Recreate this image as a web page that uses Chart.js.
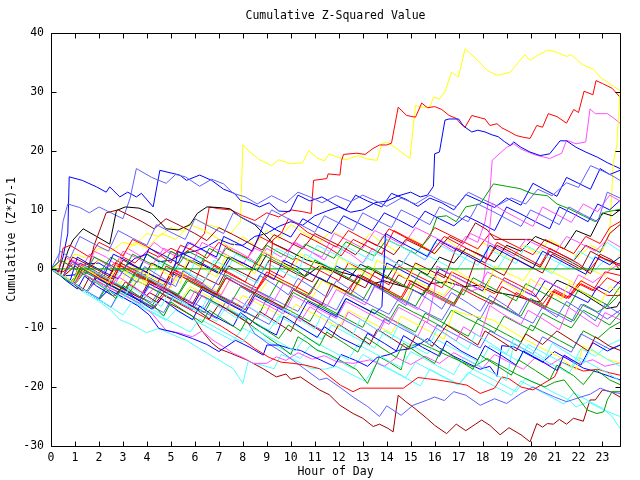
<!DOCTYPE html>
<html>
<head>
<meta charset="utf-8">
<script src="https://cdn.jsdelivr.net/npm/chart.js@4"></script>
<style>
    body { margin: 0; background: #fff; }
    canvas { display: block; }
</style>
</head>
<body>
<canvas id="zChart" width="640" height="480"></canvas>
<script>
// ==================== Data: [hour, cumulative value] ====================
const yTicks = [-30, -20, -10, 0, 10, 20, 30, 40];
const xTicks = [0, 1, 2, 3, 4, 5, 6, 7, 8, 9, 10, 11, 12, 13, 14, 15, 16, 17, 18, 19, 20, 21, 22, 23];
const hourMax = 23.73;

const yellowA = [[0,0],[0.5,1],[1,2.5],[1.5,1.8],[2,3.5],[2.5,3],[3,4.5],[3.5,4],[4,6],[4.5,5.5],[5,7],[5.5,6.5],[6,8.5],[6.5,7.5],[7,7],[7.5,6],[7.9,8],[8.0,21],[8.3,19.8],[8.7,18.5],[9.2,17.5],[9.5,18.5],[10,17.8],[10.5,18],[10.75,20],[11.1,18.8],[11.4,18.3],[11.6,19.5],[11.9,19],[12.3,18.5],[12.8,19.2],[13.2,18.6],[13.6,18.4],[13.8,21.2],[14.0,21.5],[14.2,21],[14.97,18.7],[15.2,27.7],[15.4,27.4],[15.8,27.4],[15.95,29.1],[16.2,28.8],[16.43,30],[16.7,33.3],[16.99,32.5],[17.27,37.3],[17.7,35.7],[18.2,33.6],[18.6,32.8],[19.14,33.3],[19.5,35],[19.77,36.3],[19.98,35.3],[20.3,36.2],[20.74,37.1],[21.1,36.7],[21.5,36],[21.7,36.3],[22.2,34.5],[22.6,33.9],[22.9,32.5],[23.3,31.4],[23.73,30.2]];
const redA = [[0,0],[0.5,-0.5],[1,1],[1.5,0],[2,1.5],[2.5,0.5],[3,2],[3.5,1],[4,3],[4.5,2],[5,3.5],[5.5,2.5],[6,4],[6.4,6],[6.6,10.5],[7,10.2],[7.5,10],[8,9],[8.5,8.2],[9,9.5],[9.5,8.8],[10,10],[10.5,9.7],[10.85,9.4],[10.95,15],[11.5,15.3],[11.56,16.1],[12.05,15.9],[12.12,18.4],[12.2,19.4],[12.75,19.6],[13.1,19.4],[13.43,20.4],[13.7,21],[14.0,21],[14.2,21.3],[14.48,27.4],[14.83,26],[15.2,25.7],[15.46,28.1],[15.7,27.3],[16.0,27.5],[16.3,27],[16.6,26],[16.9,25.5],[17.06,24.7],[17.27,24.0],[17.55,26],[17.9,25.6],[18.1,25.4],[18.3,24.3],[18.6,24.6],[18.8,23.9],[19.14,23.2],[19.4,22.6],[19.7,22.3],[19.98,22.1],[20.26,24.3],[20.5,24],[20.74,26.3],[21.1,25.8],[21.5,24.7],[21.8,27],[22.0,26.5],[22.23,30.1],[22.6,29.5],[22.73,31.9],[23.0,31.4],[23.4,30.6],[23.73,29.1]];
const magentaA = [[0,0],[0.4,-1],[0.6,2],[1,1],[1.5,-0.5],[1.8,3],[2.3,2],[2.8,0.5],[3.2,3.5],[3.8,2],[4.3,4.5],[4.8,3],[5.3,2],[5.8,4.5],[6.4,3],[7,1.5],[7.3,4],[8,2.5],[8.6,1],[9,3.5],[9.6,2],[10.2,4.5],[10.8,3],[11.4,1.5],[11.8,4],[12.5,2.5],[13,1],[13.4,3.5],[14,2],[14.6,0.5],[15,3],[15.6,1.5],[16.2,4.5],[16.8,3],[17.3,5.5],[17.8,4.5],[18.1,8],[18.3,12.8],[18.4,18.4],[19.0,20.6],[19.3,21.2],[19.6,20.3],[20.2,19.3],[20.8,18.7],[21.3,19.6],[21.5,21.8],[21.9,21.2],[22.3,21.5],[22.48,27.1],[22.7,26.3],[23.2,26.3],[23.45,25.6],[23.73,24.7]];
const blueA = [[0,0],[0.5,-1.2],[1,-1],[1.4,0.8],[2,1],[2.5,-0.3],[3,0],[3.5,1.8],[4,2.5],[4.5,1.2],[5,1.5],[5.5,2.6],[6,3],[6.5,3.8],[7,5],[7.5,4.2],[8,4],[8.5,5.5],[9,6],[9.5,7.2],[10,8],[10.5,7.4],[11,9],[11.5,9.8],[12,10.5],[12.5,9.6],[13,10],[13.5,11.2],[14,11.5],[14.5,12.4],[15,13],[15.4,12.2],[15.7,12.5],[15.95,14],[16.0,19.5],[16.2,19.8],[16.43,25.2],[16.6,25.4],[17.0,25.4],[17.2,24.2],[17.55,23.2],[17.8,23.5],[18.1,23.2],[18.4,22.7],[18.65,22.4],[18.9,21.6],[19.15,20.9],[19.3,21.5],[19.6,20.6],[19.98,19.8],[20.4,19.2],[20.8,19.5],[21.23,21.7],[21.5,21.7],[21.9,20.6],[22.3,19.8],[22.8,18.9],[23.2,18],[23.73,17]];
const yellowB = [[0,0],[0.5,-1.5],[1,0.5],[1.5,-0.5],[2,1.5],[2.6,0],[3,2.5],[3.5,4.5],[4,3.5],[4.6,6],[5.2,5],[5.8,7.5],[6.4,6.5],[7,5],[7.5,3.5],[8,5.5],[8.5,4],[9,6.5],[9.5,5],[10,7.5],[10.6,6],[11.2,4.5],[11.7,6.5],[12.3,5],[12.8,3.5],[13.3,6],[13.8,4.5],[14.4,3],[14.9,5.5],[15.5,4],[16,2.5],[16.5,5],[17,3.5],[17.6,2],[18,4.5],[18.6,3],[19.2,1.5],[19.7,4],[20.3,2.5],[20.8,5],[21.4,3.5],[22,2],[22.5,4],[23,3],[23.3,6],[23.45,18],[23.6,21],[23.73,29.7]];
const blueB = [[0,0],[0.3,-0.5],[0.5,2],[0.7,6],[0.76,15.6],[1.3,15],[1.9,13.9],[2.3,13],[2.45,13.9],[2.87,12.2],[3.2,13],[3.56,12.2],[3.77,12.8],[4.26,10.5],[4.54,16.7],[5.37,15.9],[5.65,15],[6.2,15.9],[6.7,15],[7.2,13.5],[7.65,12.8],[7.9,11.6],[8.3,11.2],[8.7,10.5],[9.1,11.2],[9.5,9.8],[9.96,9.7],[10.3,12.5],[10.8,11.5],[11.3,12.2],[11.8,11],[12.3,10],[12.7,12.5],[13.2,11.5],[13.8,10.5],[14.2,12.8],[14.8,11.8],[15.3,10.6],[15.8,12],[16.3,11.2],[16.8,10],[17.3,12.6],[17.9,11.5],[18.5,10.4],[19,12],[19.6,10.8],[20.1,14.5],[20.6,13.4],[21.1,12.3],[21.5,15.5],[22,14.5],[22.5,13.5],[22.9,17],[23.3,16],[23.73,16.7]];
const lightBlueA = [[0,0],[0.3,1],[0.5,8],[0.7,11],[1.2,10.4],[1.6,9.5],[2,10.5],[2.5,9.5],[3,8.5],[3.3,12],[3.56,17],[4.2,15.5],[4.8,14.5],[5.2,16],[5.6,15.6],[6.2,14],[6.7,15.2],[7.2,14.4],[7.6,12.8],[8.1,12.2],[8.6,11],[9.2,12.4],[9.8,11.2],[10.3,13],[10.8,12.2],[11.3,11.2],[11.9,12.4],[12.5,11.4],[13,12.5],[13.5,11.6],[14,10.6],[14.6,12],[15.2,11],[15.8,12.5],[16.3,11.5],[16.9,10.5],[17.4,13],[18,11.8],[18.6,10.7],[19.2,12],[19.8,11],[20.3,13.5],[20.9,12.4],[21.5,14.6],[22,13.8],[22.5,17.5],[23,16.6],[23.4,15.8],[23.73,15]];
const blackA = [[0,0],[0.4,-1],[0.7,3],[0.92,4.9],[1.34,6.8],[1.9,5.5],[2.45,4.2],[2.73,9.9],[3.1,10.5],[3.67,10.3],[4.2,9.4],[4.8,6.8],[5.3,6.6],[5.8,7.5],[6.1,9.4],[6.5,10.5],[7,10.4],[7.46,10.2],[7.9,8.8],[8.5,7.5],[9.27,4.3],[9.8,3.3],[10.66,1.5],[11.3,0.8],[12.05,-0.5],[12.7,-1.2],[13.44,-2.5],[13.9,-2],[14.27,-2.5],[14.9,-3.2],[15.53,-4.4],[15.8,-2.5],[16.5,-2.2],[17.2,-3],[17.9,-2.75],[18.6,-4],[19.3,-4.5],[19.97,-5.3],[20.4,-5.6],[21.1,-1.9],[21.6,-2.8],[22.2,-4.2],[22.7,-5.5],[23.17,-6.7],[23.6,-6.4],[23.73,-5.5]];
const blackB = [[0,0],[0.5,-1.2],[1,-2.4],[1.3,0],[1.8,-1],[2.3,-2.2],[2.7,0.5],[3.2,-0.5],[3.8,-1.8],[4.2,1],[4.8,-0.2],[5.4,-1.5],[5.8,1.5],[6.4,0.5],[7,-0.8],[7.4,2],[8,1],[8.6,-0.3],[9,2.5],[9.6,1.2],[10.2,0],[10.6,-1.3],[11.2,0.5],[11.8,-0.5],[12.4,-1.8],[12.9,0.8],[13.5,-0.4],[14,-1.6],[14.5,1.5],[15.1,0.3],[15.7,-1],[16.2,2],[16.8,1],[17.3,3.5],[17.9,2.4],[18.5,1.2],[19,4],[19.6,3],[20.2,5.5],[20.8,4.5],[21.4,3.4],[21.9,6.5],[22.5,5.5],[23,9.5],[23.4,9],[23.73,10]];
const redB = [[0,0],[0.3,-1],[0.5,3.5],[0.8,4],[1.2,3],[1.6,2],[2,4.5],[2.5,3.5],[3,2.2],[3.4,5],[4,3.8],[4.5,2.5],[5,1],[5.4,4],[6,3],[6.5,1.8],[7,4.5],[7.6,3],[8.2,1.8],[8.7,5.5],[9.3,4.2],[9.9,3],[10.4,6],[11,4.8],[11.6,3.5],[12.1,2.2],[12.6,5],[13.2,3.8],[13.8,2.5],[14.3,6.5],[14.9,5.2],[15.5,4],[16,7],[16.6,5.8],[17.2,4.6],[17.8,3.4],[18.3,6],[18.9,4.8],[19.5,3.6],[20.1,2.4],[20.6,5],[21.2,3.8],[21.8,2.6],[22.3,5.5],[22.9,4.3],[23.3,7],[23.73,8]];
const darkRedA = [[0,0],[0.5,-1.3],[1,0.5],[1.5,-0.8],[1.8,4],[2.3,9.5],[2.8,10],[3.3,9],[3.8,8],[4.3,6.8],[4.8,8.5],[5.4,7.3],[6,6],[6.5,4.8],[7,7],[7.6,5.8],[8.2,4.5],[8.8,3.2],[9.3,5.8],[9.9,4.6],[10.5,3.4],[11,6],[11.6,4.8],[12.2,3.6],[12.7,2.4],[13.2,4.8],[13.8,3.6],[14.3,2.4],[14.8,5],[15.4,3.8],[16,2.6],[16.6,5.5],[17.2,4.3],[17.7,7.8],[18.2,6.6],[18.5,5],[20,5],[20.6,3.8],[21.2,2.6],[21.8,1.4],[22.3,4],[22.9,2.8],[23.3,6],[23.73,7.5]];
const greenA = [[0,0],[0.5,-1.3],[1,-2.5],[1.4,0.5],[2,-0.8],[2.5,2],[3,0.8],[3.6,-0.5],[4,2.5],[4.6,1.2],[5.2,0],[5.7,3],[6.3,1.8],[6.8,0.5],[7.3,3.5],[7.9,2.3],[8.5,1],[9,4],[9.5,2.8],[10.1,1.6],[10.6,4.2],[11.2,3],[11.8,1.8],[12.3,4.6],[12.9,3.4],[13.5,2.2],[14,5],[14.6,3.8],[15.2,2.6],[15.8,5.4],[16.1,8.8],[16.5,9],[16.9,8],[17.3,10.5],[17.9,11],[18.45,14.4],[19,14],[19.56,13.6],[20.1,12.7],[20.7,12.4],[21.1,11],[21.6,10.2],[22.2,9],[22.7,8],[23.1,9.6],[23.73,10.1]];
const blueC = [[0,0],[0.5,-1.3],[0.9,-2.4],[1.2,1],[1.7,0],[2.2,-1.3],[2.6,2.5],[3.2,1.3],[3.7,0],[4.1,3.5],[4.7,2.3],[5.3,1],[5.7,4.5],[6.3,3.3],[6.9,2],[7.2,5.5],[7.8,4.3],[8.4,3],[8.9,7.8],[9.4,6.6],[10,5.4],[10.5,8.5],[11.1,7.2],[11.7,6],[12.2,9],[12.8,7.8],[13.4,6.5],[13.9,9.5],[14.5,8.3],[15.1,7],[15.6,9.8],[16.2,8.5],[16.8,7.3],[17.3,9],[17.9,7.8],[18.5,6.5],[19,10.5],[19.6,9.3],[20.2,8],[20.8,6.8],[21.2,10.5],[21.8,9.3],[22.4,8],[22.8,11],[23.3,10],[23.73,11.6]];
const magentaB = [[0,0],[0.4,1.5],[0.8,0.5],[1.2,-0.6],[1.6,2.5],[2.1,1.3],[2.6,0],[3,3],[3.6,1.8],[4.2,0.5],[4.7,3.5],[5.3,2.3],[5.9,1],[6.3,4.5],[6.9,3.3],[7.5,2],[8,0.8],[8.5,3.5],[9.1,2.3],[9.7,1],[10.1,4.5],[10.7,3.2],[11.3,2],[11.8,6],[12.4,4.8],[13,3.5],[13.5,6.5],[14.1,5.3],[14.7,4],[15.2,7],[15.8,5.8],[16.4,4.5],[17,3.3],[17.5,6],[18.1,4.8],[18.7,3.5],[19.3,2.2],[19.8,5],[20.4,3.8],[21,2.5],[21.5,5.5],[22.1,4.3],[22.7,3],[23.2,5],[23.73,3.7]];
const cyanA = [[0,0],[0.5,-1.3],[1,-2.6],[1.4,-0.5],[2,-1.8],[2.5,-3],[2.9,0],[3.5,-1.2],[4.1,-2.5],[4.5,1],[5.1,-0.2],[5.7,-1.5],[6.1,2],[6.7,0.8],[7.3,-0.5],[7.7,2.5],[8.3,1.3],[8.9,0],[9.4,3.5],[10,2.3],[10.6,1],[11.1,4],[11.7,2.8],[12.3,1.5],[12.9,0.3],[13.4,3],[14,1.8],[14.6,0.5],[15.1,3.5],[15.7,2.3],[16.3,1],[16.9,-0.3],[17.4,2.5],[18,1.3],[18.6,0],[19.1,3],[19.7,1.8],[20.3,0.5],[20.9,-0.8],[21.4,2],[22,0.8],[22.6,-0.5],[23.1,1.5],[23.73,0.5]];
const yellowC = [[0,0],[0.5,-1.2],[1,-2.5],[1.4,1],[1.9,0],[2.4,-1.3],[2.9,-2.5],[3.3,0.5],[3.9,-0.7],[4.5,-2],[5,-3.2],[5.4,-0.5],[6,-1.8],[6.6,-3],[7.1,-4.2],[7.5,-1.5],[8.1,-2.8],[8.7,-4],[9.2,-1],[9.8,-2.3],[10.4,-3.5],[10.9,-4.8],[11.3,-2],[11.9,-3.3],[12.5,-4.5],[13,-1.5],[13.6,-2.8],[14.2,-4],[14.8,-5.3],[15.2,-2],[15.8,-3.3],[16.4,-4.5],[16.9,-1.5],[17.5,-2.8],[18.1,-4],[18.5,0.5],[19.1,-0.8],[19.7,-2],[20.2,1],[20.8,-0.3],[21.4,-1.5],[22,-2.8],[22.5,0],[23.1,-1.3],[23.73,2.5]];
const redC = [[0,0],[0.5,-1.3],[0.8,1.5],[1.3,0.3],[1.8,-1],[2.3,-2.2],[2.7,1],[3.3,-0.2],[3.9,-1.5],[4.4,-2.7],[4.8,0.5],[5.4,-0.8],[6,-2],[6.4,1.5],[7,0.3],[7.6,-1],[8.1,-2.2],[8.5,1],[9.1,-0.2],[9.7,-1.5],[10.2,1.8],[10.8,0.6],[11.4,-0.7],[12,-2],[12.4,1],[13,-0.2],[13.6,-1.5],[14.1,-2.7],[14.5,0.5],[15.1,-0.8],[15.7,-2],[16.3,-3.2],[16.7,-0.5],[17.3,-1.7],[17.9,-3],[18.5,-4.2],[18.9,-1.5],[19.5,-2.7],[20.1,-4],[20.5,-6],[20.9,-3.8],[21.5,-5],[22,-2.5],[22.6,-3.7],[23.1,-0.5],[23.73,-1.1]];
const redD = [[0,0],[0.5,-1.3],[1,-2.6],[1.4,0],[2,-1.2],[2.6,-2.5],[3.1,-3.7],[3.5,-1],[4.1,-2.2],[4.7,-3.5],[5.1,-0.5],[5.7,-1.8],[6.3,-3],[6.9,-4.3],[7.3,-1.5],[7.9,-2.8],[8.5,-4],[9,-1],[9.6,-2.3],[10.2,-3.5],[10.7,-0.5],[11.3,-1.8],[11.9,-3],[12.5,-4.3],[12.9,-1.5],[13.5,-2.8],[14.1,-4],[14.6,-5.3],[15,-2.5],[15.6,-3.8],[16.2,-5],[16.8,-6.3],[17.2,-3.5],[17.8,-4.8],[18.4,-6],[18.8,-3],[19.4,-4.3],[20,-5.5],[20.6,-6.8],[21,-3.8],[21.6,-5],[22.1,-2.5],[22.7,-3.7],[23.2,-1.5],[23.73,-2.5]];
const redE = [[0,0],[0.4,-1],[0.9,-2.3],[1.3,0.8],[1.9,-0.5],[2.5,-1.8],[2.9,1],[3.5,-0.2],[4.1,-1.5],[4.7,-2.8],[5.1,0],[5.7,-1.3],[6.3,-2.5],[6.8,0.5],[7.4,-0.8],[8,-2],[8.6,-3.3],[9,-0.5],[9.6,-1.8],[10.2,-3],[10.8,-4.3],[11.2,-1.5],[11.8,-2.8],[12.4,-4],[12.8,-1],[13.4,-2.3],[14,-3.5],[14.6,-4.8],[15,-2],[15.6,-3.3],[16.2,-4.5],[16.8,-5.8],[17.2,-3],[17.8,-4.3],[18.4,-5.5],[19,-6.8],[19.4,-4],[20,-5.3],[20.6,-6.5],[21,-3.5],[21.6,-4.8],[22.1,-2],[22.7,-3.3],[23.2,-4.5],[23.73,-4.5]];
const greenB = [[0,0],[0.5,-1.3],[1,-2.6],[1.5,-3.8],[1.9,-1],[2.5,-2.3],[3.1,-3.5],[3.5,-0.5],[4.1,-1.8],[4.7,-3],[5.3,-4.3],[5.7,-1.5],[6.3,-2.8],[6.9,-4],[7.3,-1],[7.9,-2.3],[8.5,-3.5],[9.1,-4.8],[9.5,-2],[10.1,-3.3],[10.7,-4.5],[11.2,-1.5],[11.8,-2.8],[12.4,-4],[13,-5.3],[13.4,-2.5],[14,-3.8],[14.6,-5],[15.2,-6.3],[15.6,-3.5],[16.2,-4.8],[16.8,-6],[17.2,-3],[17.8,-4.3],[18.4,-5.5],[19,-6.8],[19.6,-8],[20,-5],[20.6,-6.3],[21.2,-7.5],[21.8,-8.8],[22.2,-6],[22.8,-7.3],[23.3,-6],[23.73,-4.2]];
const darkRedB = [[0,0],[0.5,-1.3],[0.9,2],[1.5,0.8],[2.1,-0.5],[2.6,-1.7],[3,1.5],[3.6,0.3],[4.2,-1],[4.8,-2.2],[5.2,1],[5.8,-0.2],[6.4,-1.5],[7,-2.7],[7.4,0.5],[8,-0.7],[8.6,-2],[9.1,1.5],[9.7,0.3],[10.3,-1],[10.9,-2.2],[11.3,0.5],[11.9,-0.7],[12.5,-2],[13.1,-3.2],[13.5,-0.5],[14.1,-1.7],[14.7,-3],[15.2,1],[15.8,-0.2],[16.4,-1.5],[16.9,3.5],[17.5,2.3],[18.1,1],[18.6,4],[19.2,2.8],[19.8,1.5],[20.4,0.3],[20.8,3],[21.4,1.8],[22,0.5],[22.5,-0.8],[22.9,2.5],[23.4,1.5],[23.73,-0.2]];
const blueD = [[0,0],[0.4,-1],[0.8,-2],[1.1,2],[1.6,0.8],[2.2,-0.5],[2.8,-1.7],[3.2,1],[3.8,-0.2],[4.4,-1.5],[5,-2.7],[5.3,3],[5.9,1.8],[6.5,0.5],[7.1,-0.8],[7.5,2],[8.1,0.8],[8.7,-0.5],[9.3,-1.8],[9.7,1.5],[10.3,0.3],[10.9,-1],[11.5,-2.2],[11.9,0.5],[12.5,-0.7],[13.1,-2],[13.7,-3.2],[14,1],[14.6,-0.2],[15.2,-1.5],[15.8,-2.7],[16.2,0],[16.8,-1.2],[17.4,-2.5],[18,-3.7],[18.4,-1],[19,-2.2],[19.6,-3.5],[20.2,-4.7],[20.6,-2],[21.2,-3.2],[21.8,-4.5],[22.4,-5.7],[22.8,-3],[23.3,-4],[23.73,-2]];
const lightBlueB = [[0,0],[0.5,-1.3],[1,-2.5],[1.5,-3.8],[2,-5],[2.4,-2],[3,-3.2],[3.6,-4.5],[4.2,-5.7],[4.6,-3],[5.2,-4.2],[5.8,-5.5],[6.4,-6.7],[6.8,-4],[7.4,-5.2],[8,-6.5],[8.5,-3.5],[9.1,-4.7],[9.7,-6],[10.3,-7.2],[10.7,-4.5],[11.3,-5.7],[11.9,-7],[12.3,-4],[12.9,-5.2],[13.5,-6.5],[14.1,-7.7],[14.5,-5],[15.1,-6.2],[15.7,-7.5],[16.3,-8.7],[16.7,-6],[17.3,-7.2],[17.9,-8.5],[18.3,-5.5],[18.9,-6.7],[19.5,-8],[20.1,-9.2],[20.5,-6.5],[21.1,-7.7],[21.7,-9],[22.1,-6],[22.7,-7.2],[23.2,-8.5],[23.73,-7]];
const darkRedC = [[0,0],[0.5,-1.2],[1,-2.5],[1.5,-3.8],[1.9,-2],[2.5,-3.3],[3.1,-4.5],[3.7,-5.8],[4.1,-4],[4.7,-5.3],[5.3,-6.6],[5.9,-8],[6.3,-10.5],[6.7,-12.5],[7,-13.5],[7.5,-14.3],[8.15,-15.4],[8.8,-16.8],[9.4,-18.3],[9.8,-17.8],[10,-18.7],[10.4,-18.3],[10.8,-19.4],[11.2,-20.5],[11.6,-21.3],[12.05,-23.1],[12.6,-24.5],[13,-25.3],[13.44,-26.7],[13.7,-26.3],[14.05,-27],[14.27,-27.6],[14.48,-21.4],[14.8,-22.5],[15.1,-23.4],[15.67,-25.3],[16,-26.5],[16.5,-27.9],[16.9,-26.3],[17.3,-27.4],[17.96,-25.6],[18.3,-26.5],[18.73,-28.1],[19.1,-26.9],[19.6,-28.1],[19.98,-29.3],[20.26,-26.2],[20.5,-26.8],[20.7,-26.2],[20.95,-26.3],[21.2,-25.5],[21.5,-26.3],[21.79,-25.3],[22.2,-25.8],[22.48,-22.2],[22.7,-22.2],[23,-20.5],[23.35,-20.8],[23.73,-21.7]];
const cyanB = [[0,0],[0.5,-1.5],[1,-3],[1.5,-4.3],[2,-5.5],[2.5,-7],[2.87,-8.6],[3.4,-9.5],[3.98,-10.8],[4.5,-10.1],[5.1,-11.2],[5.65,-12.1],[6.2,-13.5],[6.9,-15.2],[7.6,-16.9],[8,-19.4],[8.22,-15.7],[8.8,-16.3],[9.3,-16.9],[9.6,-14.5],[10.2,-15.5],[10.8,-16.8],[11.4,-17],[11.9,-16.5],[12.5,-17.8],[13.1,-19],[13.6,-16],[14.2,-17.2],[14.8,-18.5],[15.4,-19.8],[15.8,-17],[16.4,-18.3],[17,-19.5],[17.6,-17],[18.2,-18.2],[18.8,-19.5],[19.4,-20.8],[19.8,-18.5],[20.4,-19.7],[21,-21],[21.6,-22.2],[21.9,-23.4],[22.4,-22.5],[23,-23.8],[23.73,-25]];
const cyanC = [[0,0],[0.5,-1.3],[1,-2.6],[1.5,-3.9],[2,-5.2],[2.4,-3.5],[3,-4.8],[3.6,-6.1],[4.2,-7.4],[4.8,-8.7],[5.2,-7],[5.8,-8.3],[6.4,-9.6],[7,-10.9],[7.6,-12.2],[8,-10],[8.6,-11.3],[9.2,-12.6],[9.8,-13.9],[10.4,-15.2],[10.8,-13],[11.4,-14.3],[12,-15.6],[12.6,-16.9],[13,-14.5],[13.6,-15.8],[14.2,-17.1],[14.8,-18.4],[15.2,-15.8],[15.8,-17.1],[16.4,-18.4],[17,-19.7],[17.4,-17.5],[18,-18.8],[18.6,-20.1],[19.2,-21.4],[19.6,-19],[20.2,-20.3],[20.8,-21.6],[21.4,-22.9],[21.8,-21],[22.4,-22.3],[23,-23.6],[23.4,-25],[23.73,-27]];
const lightBlueC = [[0,0],[0.5,-1.3],[1,-2.6],[1.5,-3.9],[1.9,-1.5],[2.5,-2.8],[3.1,-4.1],[3.7,-5.4],[4.1,-3],[4.7,-4.3],[5.3,-5.6],[5.9,-6.9],[6.3,-4.5],[6.9,-5.8],[7.5,-7.1],[8.1,-8.4],[8.5,-11],[9,-12.5],[9.6,-14],[10.1,-15.5],[10.6,-17],[11.2,-18.8],[11.5,-18.5],[12.1,-20.2],[12.6,-21.7],[13.2,-23.3],[13.7,-25],[14,-23.2],[14.6,-24.8],[15.1,-23.1],[15.7,-22.2],[16,-21.7],[16.4,-22.3],[16.8,-20.8],[17.3,-21.4],[17.9,-23.1],[18.5,-22],[19,-22.8],[19.6,-21.1],[20.1,-20],[20.5,-20.8],[21,-21.7],[21.5,-22.5],[22.1,-21.7],[22.5,-21.2],[22.9,-20.2],[23.3,-20.8],[23.73,-21.1]];
const greenC = [[0,0],[0.5,-1.3],[1,-2.6],[1.4,-0.5],[2,-1.8],[2.6,-3.1],[3.2,-4.4],[3.6,-2],[4.2,-3.3],[4.8,-4.6],[5.4,-5.9],[5.8,-3.5],[6.4,-4.8],[7,-6.1],[7.6,-7.4],[8,-8.5],[8.5,-10],[9,-11.5],[9.6,-13.2],[10,-14.5],[10.3,-11.5],[10.7,-12.5],[11.1,-13.8],[11.6,-14.5],[12.2,-15.8],[12.76,-17.1],[13.2,-19.4],[13.7,-14.9],[14.1,-15.8],[14.6,-17.1],[14.85,-13.2],[15.4,-12.6],[15.9,-13.5],[16.5,-14.6],[17,-15.5],[17.6,-16.6],[18.2,-15.2],[18.8,-16.5],[19.4,-17.8],[20,-19],[20.6,-20],[21,-19.2],[21.4,-18.8],[21.9,-21.4],[22.36,-23.9],[22.77,-24.5],[23.05,-24.2],[23.2,-22.2],[23.4,-20.8],[23.73,-20.8]];
const magentaC = [[0,0],[0.5,-1.3],[1,-2.6],[1.5,-3.9],[1.9,-2],[2.5,-3.3],[3.1,-4.6],[3.7,-5.9],[4.2,-7.5],[4.8,-10.4],[5.3,-10.8],[5.9,-11.5],[6.3,-10.5],[6.76,-12.1],[7.2,-13.2],[7.6,-14.3],[8,-15],[8.43,-16],[9,-16],[9.4,-14.9],[9.8,-15.5],[10.3,-14.2],[10.9,-15.3],[11.4,-14.7],[11.9,-15.7],[12.6,-16],[13.3,-15.4],[13.9,-16.5],[14.4,-15],[15,-16.2],[15.6,-14.8],[16.2,-16],[16.8,-14.2],[17.4,-15.5],[18,-16.8],[18.5,-14.5],[19.1,-15.8],[19.7,-17],[20.2,-15],[20.8,-16.3],[21.4,-14.8],[22,-16],[22.6,-15.4],[23.1,-16.5],[23.73,-15.9]];
const blueE = [[0,0],[0.5,-1.3],[1,-2.6],[1.5,-3.9],[2,-5.2],[2.4,-3.5],[3,-4.8],[3.6,-6.2],[4.1,-7.8],[4.5,-10.1],[5.2,-10.8],[5.9,-11.8],[6.5,-12.8],[7,-14],[7.7,-12.1],[8.3,-13.3],[8.85,-14.6],[9,-12.9],[9.5,-12.9],[9.96,-13.5],[10.4,-13.8],[10.8,-14.6],[11.23,-15.4],[11.8,-16.5],[12.1,-14.5],[12.7,-15.5],[13.2,-16.5],[13.6,-15],[14.1,-14.5],[14.5,-13.8],[15,-13.5],[15.4,-12.7],[15.7,-11.8],[16.2,-13.4],[16.8,-14.8],[17.4,-16],[17.9,-17],[18.3,-16.5],[18.6,-18.2],[18.8,-13],[19.3,-13.2],[19.9,-14.5],[20.5,-15.8],[21,-14],[21.6,-15.4],[22.2,-16.8],[22.8,-17.5],[23.3,-18.2],[23.73,-18.8]];
const redF = [[0,0],[0.5,-1.3],[1,-2.6],[1.5,-3.9],[1.9,-1.5],[2.5,-2.8],[3.1,-4.1],[3.7,-5.4],[4.3,-6.7],[4.7,-4.5],[5.3,-5.8],[5.9,-7.1],[6.5,-8.4],[7.1,-9.7],[7.6,-11],[8,-12],[8.5,-13.5],[9.1,-15],[9.6,-15.8],[10.1,-16],[10.6,-16.3],[11.2,-16.9],[11.6,-18.2],[12.07,-19.7],[12.6,-20.8],[12.9,-20.2],[14.7,-20.2],[15.3,-18.4],[15.7,-18.6],[16.1,-18.8],[16.7,-19.2],[17.35,-19.7],[17.9,-21.1],[18.5,-20.2],[18.8,-18.3],[19.1,-18.6],[19.6,-20],[20.1,-20.5],[20.5,-19.5],[21,-18.3],[21.3,-15.8],[21.7,-16.5],[22.2,-17.3],[22.8,-17],[23.3,-17.6],[23.73,-18]];
const cyanD = [[0,0],[0.5,-1.3],[1,-2.6],[1.5,-3.9],[2,-5.2],[2.5,-6.5],[2.9,-4],[3.5,-5.3],[4.1,-6.6],[4.7,-7.9],[5.1,-5],[5.7,-6.3],[6.3,-7.6],[6.9,-8.9],[7.3,-6.5],[7.9,-7.8],[8.5,-9.1],[9.1,-10.4],[9.5,-8],[10.1,-9.3],[10.7,-10.6],[11.3,-11.9],[11.7,-9.5],[12.3,-10.8],[12.9,-12.1],[13.5,-13.4],[13.9,-10.5],[14.5,-11.8],[15.1,-13.1],[15.7,-14.4],[16.1,-12],[16.7,-13.3],[17.3,-14.6],[17.9,-15.9],[18.3,-13],[18.9,-14.3],[19.5,-15.6],[19.9,-12.8],[20.5,-14.1],[21.1,-15.4],[21.7,-16.7],[22.1,-13.5],[22.7,-14.8],[23.2,-13],[23.73,-12]];
const greenD = [[0,0],[0.5,-1.3],[0.9,-2.5],[1.3,0.5],[1.9,-0.8],[2.5,-2],[3.1,-3.3],[3.5,-0.8],[4.1,-2],[4.7,-3.3],[5.3,-4.5],[5.7,-2],[6.3,-3.3],[6.9,-4.5],[7.5,-5.8],[7.9,-3],[8.5,-4.3],[9.1,-5.5],[9.7,-6.8],[10.1,-4],[10.7,-5.3],[11.3,-6.5],[11.9,-7.8],[12.3,-5],[12.9,-6.3],[13.5,-7.5],[14.1,-8.8],[14.5,-6],[15.1,-7.3],[15.7,-8.5],[16.3,-9.8],[16.7,-7],[17.3,-8.3],[17.9,-9.5],[18.5,-10.8],[18.9,-8],[19.5,-9.3],[20.1,-10.5],[20.5,-7.5],[21.1,-8.8],[21.7,-10],[22.2,-7],[22.8,-8.3],[23.3,-9.5],[23.73,-7.5]];
const greenE = [[0,0],[0.5,-1.3],[1,-2.6],[1.5,-3.9],[2,-5.2],[2.4,-2.5],[3,-3.8],[3.6,-5.1],[4.2,-6.4],[4.6,-3.5],[5.2,-4.8],[5.8,-6.1],[6.4,-7.4],[6.8,-4.5],[7.4,-5.8],[8,-7.1],[8.6,-8.4],[9,-5],[9.6,-6.3],[10.2,-7.6],[10.8,-8.9],[11.2,-6],[11.8,-7.3],[12.4,-8.6],[13,-9.9],[13.4,-6.8],[14,-8.1],[14.6,-9.4],[15.2,-10.7],[15.6,-7.5],[16.2,-8.8],[16.8,-10.1],[17.4,-11.4],[17.8,-8.5],[18.4,-9.8],[19,-11.1],[19.6,-12.4],[20,-9.5],[20.6,-10.8],[21.2,-12.1],[21.8,-13.4],[22.2,-10.5],[22.8,-11.8],[23.3,-10],[23.73,-9]];
const yellowD = [[0,0],[0.5,-1.3],[1,-2.6],[1.4,0],[2,-1.3],[2.6,-2.6],[3.2,-3.9],[3.6,-1.5],[4.2,-2.8],[4.8,-4.1],[5.4,-5.4],[5.8,-3],[6.4,-4.3],[7,-5.6],[7.6,-6.9],[8,-4.5],[8.6,-5.8],[9.2,-7.1],[9.8,-8.4],[10.2,-6],[10.8,-7.3],[11.4,-8.6],[12,-9.9],[12.4,-7],[13,-8.3],[13.6,-9.6],[14.2,-10.9],[14.6,-8],[15.2,-9.3],[15.8,-10.6],[16.4,-11.9],[16.8,-7],[17.4,-7.8],[18,-8.2],[18.46,-8.7],[19.1,-10.3],[19.85,-12.1],[20.5,-13.5],[21.2,-14.9],[21.9,-17.1],[22.2,-13],[22.7,-14.2],[23.2,-15.3],[23.73,-15.9]];
const magentaD = [[0,0],[0.5,-1.3],[1,-2.6],[1.5,-3.9],[1.9,-1],[2.5,-2.3],[3.1,-3.6],[3.7,-4.9],[4.1,-2.5],[4.7,-3.8],[5.3,-5.1],[5.9,-6.4],[6.3,-3.5],[6.9,-4.8],[7.5,-6.1],[8.1,-7.4],[8.5,-5],[9.1,-6.3],[9.7,-7.6],[10.1,-4.5],[10.7,-5.8],[11.3,-7.1],[11.9,-8.4],[12.3,-5.5],[12.9,-6.8],[13.5,-8.1],[14.1,-9.4],[14.5,-6.5],[15.1,-7.8],[15.7,-9.1],[16,-3.5],[16.1,0.5],[16.6,-0.8],[17.2,-2.1],[17.8,-3.4],[18.2,-0.5],[18.8,-1.8],[19.4,-3.1],[20,-4.4],[20.4,-1.5],[21,-2.8],[21.6,-4.1],[22,-1],[22.6,-2.3],[23.2,-0.5],[23.73,1]];
const magentaE = [[0,0],[0.5,-1.3],[0.9,1.5],[1.5,0.2],[2.1,-1.1],[2.7,-2.4],[3.1,0.5],[3.7,-0.8],[4.3,-2.1],[4.9,-3.4],[5.3,-0.5],[5.9,-1.8],[6.5,-3.1],[7.1,-4.4],[7.5,-1.5],[8.1,-2.8],[8.7,-4.1],[9.3,-5.4],[9.7,-2.5],[10.3,-3.8],[10.9,-5.1],[11.5,-6.4],[11.9,-3.5],[12.5,-4.8],[13.1,-6.1],[13.5,-3],[14.1,-4.3],[14.7,-5.6],[15.3,-6.9],[15.7,-4],[16.3,-5.3],[16.9,-2.5],[17.5,-3.8],[18,-3.1],[18.25,5],[18.4,11.1],[18.9,9.8],[19.5,8.5],[20.1,7.2],[20.5,10.5],[21.1,9.2],[21.7,7.9],[22.2,11],[22.8,9.7],[23.3,12.5],[23.73,11.5]];
const cyanE = [[0,0],[0.5,-1.3],[1,-2.6],[1.4,0.5],[2,-0.8],[2.6,-2.1],[3.2,-3.4],[3.6,-0.5],[4.2,-1.8],[4.8,-3.1],[5.2,0.5],[5.8,-0.8],[6.4,-2.1],[6.8,1.5],[7.4,0.2],[8,-1.1],[8.6,-2.4],[9,1],[9.6,-0.3],[10.2,-1.6],[10.6,2.5],[11.2,1.2],[11.8,-0.1],[12.2,4],[12.8,2.7],[13.4,1.4],[13.8,5.5],[14.4,4.2],[15,2.9],[15.6,1.6],[16,4.5],[16.6,3.2],[17.2,1.9],[17.8,0.6],[18.2,3.5],[18.8,2.2],[19.4,0.9],[19.8,4],[20.4,2.7],[21,1.4],[21.6,0.1],[22,3],[22.6,1.7],[23.2,4.5],[23.73,3]];
const redG = [[0,0],[0.5,-1.3],[1,-2.6],[1.3,0],[1.9,-1.3],[2.5,-2.6],[2.9,0.5],[3.5,-0.8],[4.1,-2.1],[4.7,-3.4],[5.1,-0.5],[5.7,-1.8],[6.3,-3.1],[6.9,-4.4],[7.3,-1.5],[7.9,-2.8],[8.5,-4.1],[9.1,-0.8],[9.25,4.9],[9.6,6],[9.9,8.5],[10.3,7.5],[10.7,6.2],[11.3,5],[11.9,3.7],[12.4,6.5],[13,5.2],[13.6,3.9],[14.1,6.8],[14.7,5.5],[15.3,4.2],[15.9,2.9],[16.4,5.5],[17,4.2],[17.6,2.9],[18.2,1.6],[18.6,4.5],[19.2,3.2],[19.8,1.9],[20.4,0.6],[20.8,3.5],[21.4,2.2],[22,0.9],[22.4,-0.4],[22.9,2],[23.73,0.5]];
const darkRedD = [[0,0],[0.5,-1.3],[1,-2.6],[1.5,-3.9],[1.9,-1],[2.5,-2.3],[3.1,-3.6],[3.7,-4.9],[4.1,-2],[4.7,-3.3],[5.3,-4.6],[5.9,-5.9],[6.3,-3],[6.9,-4.3],[7.5,-5.6],[8.1,-6.9],[8.5,-4],[9.1,-5.3],[9.7,-6.6],[10.1,-3.5],[10.7,-4.8],[11.3,-6.1],[11.7,-2.5],[12.3,-3.8],[12.9,-1],[13.5,-2.3],[14.1,-3.6],[14.5,-1],[15.1,-2.3],[15.7,-3.6],[16.1,-0.5],[16.7,-1.8],[17.3,-3.1],[17.7,1.5],[18.3,0.2],[18.9,-1.1],[19.3,1.9],[19.9,0.6],[20.5,-0.7],[20.9,2.5],[21.5,1.2],[22.1,-0.1],[22.5,3],[23.1,1.7],[23.73,0.8]];
const lightBlueD = [[0,0],[0.4,3],[0.8,1.8],[1.2,5.5],[1.8,4.2],[2.4,3],[2.8,6.5],[3.4,5.2],[4,4],[4.4,7.5],[5,6.2],[5.6,5],[6,8.5],[6.6,7.2],[7.2,6],[7.6,9.5],[8.2,8.2],[8.8,7],[9.2,10],[9.8,8.7],[10.4,7.5],[11,6.2],[11.4,9],[12,7.8],[12.6,6.5],[13,9.5],[13.6,8.2],[14.2,7],[14.6,10],[15.2,8.8],[15.8,7.5],[16.2,10.5],[16.8,9.2],[17.4,8],[17.8,11],[18.4,9.8],[19,8.5],[19.6,7.2],[20,10],[20.6,8.8],[21.2,7.5],[21.6,10.5],[22.2,9.2],[22.8,8],[23.2,13],[23.73,12]];
const greenF = [[0,0],[0.4,1.5],[0.9,0.3],[1.4,-1],[1.8,2],[2.4,0.8],[3,-0.5],[3.4,2.5],[4,1.2],[4.6,0],[5,3],[5.6,1.8],[6.2,0.5],[6.6,3.5],[7.2,2.2],[7.8,1],[8.4,-0.3],[8.8,2.5],[9.4,1.2],[10,0],[10.6,-1.3],[11,1.5],[11.6,0.2],[12.2,-1.1],[12.8,-2.4],[13.2,0.5],[13.8,-0.8],[14.4,-2.1],[15,-3.4],[15.4,-0.5],[16,-1.8],[16.6,-3.1],[17.2,-4.4],[17.6,-1.5],[18.2,-2.8],[18.8,-4.1],[19.4,-5.4],[19.8,-2.5],[20.4,-3.8],[21,-5.1],[21.6,-6.4],[22,-3.5],[22.6,-4.8],[23.2,-6.1],[23.73,-3]];
const blueG = [[0,0],[0.5,-1.3],[1,-2.6],[1.5,-3.9],[1.9,-1.5],[2.5,-2.8],[3.1,-4.1],[3.7,-5.4],[4.1,-2.5],[4.7,-3.8],[5.3,-5.1],[5.9,-6.4],[6.3,-3.5],[6.9,-4.8],[7.5,-6.1],[8.1,-7.4],[8.5,-4.5],[9.1,-5.8],[9.7,-7.1],[10.3,-8.4],[10.7,-5.5],[11.3,-6.8],[11.9,-8.1],[12.3,-5],[12.9,-6.3],[13.5,-7.6],[13.8,-6.4],[13.95,6],[14.5,4.7],[15.1,3.4],[15.7,2.1],[16.1,5],[16.7,3.7],[17.3,2.4],[17.9,1.1],[18.3,4],[18.9,2.7],[19.5,1.4],[20.1,0.1],[20.5,3],[21.1,1.7],[21.7,0.4],[22.3,-0.9],[22.7,2],[23.3,0.7],[23.73,2]];
const lightBlueE = [[0,0],[0.5,-1.3],[1,-2.6],[1.5,-3.9],[2,-5.2],[2.5,-6.5],[2.9,-3.5],[3.5,-4.8],[4.1,-6.1],[4.7,-7.4],[5.1,-4.5],[5.7,-5.8],[6.3,-7.1],[6.9,-8.4],[7.3,-5.5],[7.9,-6.8],[8.5,-8.1],[9.1,-9.4],[9.5,-6.5],[10.1,-7.8],[10.7,-9.1],[11.3,-10.4],[11.7,-7.5],[12.3,-8.8],[12.9,-10.1],[13.5,-11.4],[13.9,-8.5],[14.5,-9.8],[15.1,-11.1],[15.7,-12.4],[16.1,-9.5],[16.7,-10.8],[17.3,-12.1],[17.9,-13.4],[18.3,-10.5],[18.9,-11.8],[19.5,-13.1],[20.1,-14.4],[20.5,-11.5],[21.1,-12.8],[21.7,-14.1],[22.1,-11],[22.7,-12.3],[23.3,-13.6],[23.73,-12.9]];
const cyanF = [[0,0],[0.5,-1.3],[1,-2.6],[1.5,-3.9],[2,-5.2],[2.5,-6.5],[3,-7.8],[3.4,-5.5],[4,-6.8],[4.6,-8.1],[5.2,-9.4],[5.8,-10.7],[6.2,-8.5],[6.8,-9.8],[7.4,-11.1],[8,-12.4],[8.4,-10],[9,-11.3],[9.6,-12.6],[10.2,-13.9],[10.6,-11.5],[11.2,-12.8],[11.8,-14.1],[12.4,-15.4],[12.8,-12.8],[13.4,-14.1],[14,-15.4],[14.6,-16.7],[15,-14],[15.6,-15.3],[16.2,-16.6],[16.8,-17.9],[17.2,-15],[17.8,-16.3],[18.4,-17.6],[19,-18.9],[19.3,-12.5],[19.8,-13.8],[20.4,-15.1],[21,-16.4],[21.6,-17.7],[22,-15],[22.6,-16.3],[23.2,-17.6],[23.73,-19]];
const blueH = [[0,0],[0.3,-0.8],[0.6,-1.9],[1.1,-3.4],[1.4,-1.2],[1.9,-2.9],[2.6,-4.6],[3.0,-3.1],[3.5,-4.9],[4.2,-6.8],[4.6,-5.0],[5.3,-7.1],[5.9,-8.6],[6.2,-6.3],[6.8,-8.0],[7.6,-9.7],[7.9,-7.4],[8.6,-9.5],[9.4,-11.2],[9.7,-8.0],[10.5,-10.1],[11.1,-11.6],[11.4,-9.8],[12.1,-11.7],[12.9,-13.3],[13.2,-10.9],[13.9,-12.6],[14.4,-13.9],[14.7,-11.3],[15.5,-13.3],[16.2,-14.8],[16.5,-12.2],[17.1,-13.9],[17.8,-15.4],[18.1,-13.0],[18.8,-14.7],[19.4,-16.3],[19.7,-13.9],[20.4,-15.5],[21.1,-17.2],[21.4,-14.6],[22.1,-16.3],[22.6,-12.5],[23.2,-13.9],[23.73,-12.9]];
const darkRedE = [[0,0],[0.4,-1.1],[0.9,-2.4],[1.3,-3.7],[1.6,-1.4],[2.2,-3.0],[2.7,-4.5],[3.1,-2.2],[3.8,-4.0],[4.4,-5.6],[4.8,-3.5],[5.5,-5.3],[6.1,-6.9],[6.6,-8.5],[7.0,-6.0],[7.7,-7.8],[8.3,-9.4],[8.7,-7.2],[9.4,-9.0],[10.0,-10.6],[10.3,-8.1],[11.0,-9.9],[11.7,-11.7],[12.0,-9.4],[12.7,-11.2],[13.3,-12.8],[13.6,-10.2],[14.3,-12.0],[14.9,-13.6],[15.2,-11.3],[15.9,-13.1],[16.5,-9.5],[17.2,-11.3],[17.8,-12.9],[18.1,-10.5],[18.8,-12.3],[19.4,-13.9],[19.8,-11.0],[20.5,-12.8],[21.1,-10.5],[21.8,-12.3],[22.4,-13.9],[22.7,-11.5],[23.3,-13.1],[23.73,-13.8]];
const greenG = [[0,0],[0.5,-1.4],[0.8,-2.3],[1.2,-0.4],[1.8,-2.1],[2.3,-3.5],[2.7,-5.0],[3.0,-2.8],[3.7,-4.7],[4.3,-6.3],[4.7,-8.0],[5.0,-5.6],[5.7,-7.5],[6.3,-9.1],[6.6,-7.0],[7.2,-8.6],[7.9,-10.5],[8.2,-8.3],[8.9,-10.2],[9.5,-11.8],[9.9,-9.5],[10.5,-11.1],[11.2,-13.0],[11.5,-10.7],[12.2,-12.5],[12.8,-14.1],[13.1,-11.5],[13.8,-13.4],[14.4,-15.0],[14.7,-12.6],[15.4,-14.5],[16.0,-16.0],[16.3,-13.5],[16.9,-15.2],[17.6,-17.0],[17.9,-14.6],[18.6,-16.4],[19.2,-18.0],[19.5,-15.4],[20.2,-17.2],[20.8,-18.8],[21.1,-16.3],[21.8,-18.1],[22.2,-19.6],[22.7,-17.0],[23.3,-18.8],[23.73,-19.6]];
const magentaF = [[0,0],[0.5,-1.2],[1,-2.5],[1.3,-0.6],[1.9,-2.2],[2.4,-3.5],[2.8,-1.3],[3.5,-3.1],[4.0,-4.6],[4.4,-2.7],[5.1,-4.4],[5.7,-6.0],[6.0,-3.7],[6.6,-5.4],[7.3,-7.1],[7.6,-4.8],[8.3,-6.6],[8.9,-8.1],[9.2,-5.6],[9.9,-7.4],[10.4,-8.9],[10.8,-6.4],[11.5,-8.2],[12.1,-9.8],[12.4,-7.3],[13.1,-9.0],[13.7,-10.6],[14.0,-8.1],[14.7,-9.8],[15.3,-11.4],[15.6,-8.9],[16.3,-10.6],[16.9,-12.2],[17.2,-9.8],[17.9,-11.5],[18.3,-6.2],[18.9,-7.8],[19.6,-9.4],[19.9,-7.0],[20.6,-8.7],[21.2,-10.3],[21.6,-6.5],[22.2,-8.2],[22.8,-9.8],[23.1,-7.4],[23.73,-8.6]];
const yellowE = [[0,0],[0.4,-0.9],[0.9,-2.2],[1.2,0.6],[1.8,-0.9],[2.4,-2.4],[2.7,0.5],[3.3,-1.1],[3.9,-2.7],[4.2,0.8],[4.9,-1.0],[5.4,-2.4],[5.7,1.8],[6.4,0.0],[6.9,-1.4],[7.3,2.4],[8.0,0.6],[8.5,-0.8],[8.9,3.0],[9.5,1.4],[10.1,-0.2],[10.4,2.6],[11.1,0.8],[11.7,-0.8],[12.0,2.0],[12.7,0.2],[13.3,-1.4],[13.6,1.5],[14.3,-0.3],[14.9,-1.9],[15.2,0.8],[15.9,-1.0],[16.5,-2.6],[16.8,0.0],[17.5,-1.8],[18.1,-3.4],[18.4,-0.8],[19.0,-2.5],[19.7,-4.2],[20.0,-1.7],[20.7,-3.5],[21.3,-5.1],[21.6,-2.4],[22.3,-4.2],[22.9,-5.8],[23.3,-3.0],[23.73,-4.0]];
const lightBlueF = [[0,0],[0.5,-1.3],[0.9,1.2],[1.5,-0.4],[2.0,-1.8],[2.4,0.9],[3.0,-0.7],[3.6,-2.3],[3.9,0.4],[4.6,-1.4],[5.2,-3.0],[5.5,-0.3],[6.2,-2.1],[6.7,-3.6],[7.1,-0.8],[7.8,-2.6],[8.3,-4.0],[8.7,-1.1],[9.4,-2.9],[9.9,-4.4],[10.3,-1.6],[11.0,-3.4],[11.5,-4.8],[11.9,-2.0],[12.6,-3.8],[13.2,-5.4],[13.5,-2.8],[14.2,-4.6],[14.8,-6.2],[15.1,-3.5],[15.8,-5.3],[16.3,-6.8],[16.7,-4.0],[17.4,-5.8],[17.9,-7.2],[18.3,-4.5],[19.0,-6.3],[19.5,-7.8],[19.9,-5.0],[20.6,-6.8],[21.1,-8.2],[21.5,-5.5],[22.2,-7.3],[22.7,-8.8],[23.1,-6.0],[23.73,-7.6]];
const cyanG = [[0,0],[0.5,-1.3],[1,-2.6],[1.5,-3.9],[1.8,-2.0],[2.4,-3.6],[3.0,-5.1],[3.3,-3.0],[4.0,-4.8],[4.6,-6.4],[4.9,-4.0],[5.6,-5.8],[6.2,-7.4],[6.5,-5.1],[7.2,-6.9],[7.8,-8.5],[8.1,-6.0],[8.8,-7.8],[9.4,-9.4],[9.7,-6.8],[10.4,-8.6],[11.0,-10.2],[11.3,-7.7],[12.0,-9.5],[12.6,-11.1],[12.9,-8.5],[13.6,-10.3],[14.2,-11.9],[14.5,-9.4],[15.2,-11.2],[15.8,-12.8],[16.1,-10.2],[16.8,-12.0],[17.4,-13.6],[17.7,-11.0],[18.4,-12.8],[19.0,-14.4],[19.3,-11.8],[20.0,-13.6],[20.6,-15.2],[20.9,-12.6],[21.6,-14.4],[22.2,-16.0],[22.5,-13.5],[23.2,-15.3],[23.73,-16.5]];
const zeroLine = [[0,0],[hourMax,0]];

// ==================== Colours ====================
const RED = '#ff0000', DARKRED = '#a00000', BLUE = '#0000ff', LIGHTBLUE = '#6060ff',
      GREEN = '#00a000', MAGENTA = '#ff50ff', CYAN = '#50ffff', YELLOW = '#ffff00', BLACK = '#000000';

const lines = [
    [cyanG, CYAN], [lightBlueF, LIGHTBLUE], [yellowE, YELLOW], [magentaF, MAGENTA], [greenG, GREEN],
    [darkRedE, DARKRED], [blueH, BLUE],
    [cyanF, CYAN], [lightBlueE, LIGHTBLUE], [blueG, BLUE], [greenF, GREEN], [lightBlueD, LIGHTBLUE],
    [darkRedD, DARKRED], [redG, RED], [cyanE, CYAN], [magentaE, MAGENTA], [magentaD, MAGENTA],
    [yellowD, YELLOW], [greenE, GREEN], [greenD, GREEN], [cyanD, CYAN], [redF, RED],
    [blueE, BLUE], [magentaC, MAGENTA], [greenC, GREEN], [lightBlueC, LIGHTBLUE], [cyanC, CYAN],
    [cyanB, CYAN], [darkRedC, DARKRED], [lightBlueB, LIGHTBLUE], [blueD, BLUE], [darkRedB, DARKRED],
    [greenB, GREEN], [redE, RED], [redD, RED], [redC, RED], [yellowC, YELLOW],
    [cyanA, CYAN], [magentaB, MAGENTA], [blueC, BLUE], [greenA, GREEN], [darkRedA, DARKRED],
    [redB, RED], [blackB, BLACK], [blackA, BLACK], [lightBlueA, LIGHTBLUE], [blueB, BLUE],
    [yellowB, YELLOW], [blueA, BLUE], [magentaA, MAGENTA], [redA, RED], [yellowA, YELLOW]
];

const FONT = { family: "'DejaVu Sans Mono', 'Liberation Mono', monospace", size: 11.5, weight: 'normal' };

// frame box with inward ticks on all four sides (gnuplot style)
const frameTicks = {
    id: 'frameTicks',
    afterDraw(chart) {
        const { ctx, chartArea: a, scales: { x, y } } = chart;
        const L = Math.round(a.left) + 0.5, R = Math.round(a.right) + 0.5;
        const T = Math.round(a.top) + 0.5, B = Math.round(a.bottom) + 0.5;
        ctx.save();
        ctx.strokeStyle = '#000';
        ctx.lineWidth = 1;
        ctx.beginPath();
        ctx.rect(L, T, R - L, B - T);
        xTicks.forEach(v => {
            const px = Math.round(x.getPixelForValue(v)) + 0.5;
            ctx.moveTo(px, B); ctx.lineTo(px, B - 5);
            ctx.moveTo(px, T); ctx.lineTo(px, T + 5);
        });
        yTicks.forEach(v => {
            const py = Math.round(y.getPixelForValue(v)) + 0.5;
            ctx.moveTo(L, py); ctx.lineTo(L + 5, py);
            ctx.moveTo(R, py); ctx.lineTo(R - 5, py);
        });
        ctx.stroke();
        ctx.restore();
    }
};

const datasets = [{
    data: zeroLine.map(p => ({ x: p[0], y: p[1] })),
    borderColor: GREEN,
    borderWidth: 1,
    pointRadius: 0,
    order: -1
}].concat(lines.map(([pts, color]) => ({
    data: pts.map(p => ({ x: p[0], y: p[1] })),
    borderColor: color,
    borderWidth: 1,
    pointRadius: 0,
    tension: 0
})));

new Chart(document.getElementById('zChart'), {
    type: 'line',
    data: { datasets },
    options: {
        responsive: false,
        animation: false,
        layout: { padding: { top: 0, right: 20, bottom: 0, left: 0 } },
        scales: {
            x: {
                type: 'linear',
                min: 0,
                max: hourMax,
                afterFit: s => { s.height = 34; },
                afterBuildTicks: s => { s.ticks = xTicks.map(v => ({ value: v })); },
                ticks: { font: FONT, color: '#000', padding: 5, maxRotation: 0, autoSkip: false },
                grid: { display: false, drawTicks: false },
                border: { display: false },
                title: { display: true, text: 'Hour of Day', font: FONT, color: '#000', padding: { top: 0, bottom: 1 } }
            },
            y: {
                min: -30,
                max: 40,
                afterFit: s => { s.width = 51; },
                afterBuildTicks: s => { s.ticks = yTicks.map(v => ({ value: v })); },
                ticks: { font: FONT, color: '#000', padding: 7 },
                grid: { display: false, drawTicks: false },
                border: { display: false },
                title: { display: true, text: 'Cumulative (Z*Z)-1', font: FONT, color: '#000', padding: { top: 5, bottom: 0 } }
            }
        },
        plugins: {
            legend: { display: false },
            tooltip: { enabled: false },
            title: {
                display: true,
                fullSize: false,
                text: 'Cumulative Z-Squared Value',
                font: FONT,
                color: '#000',
                padding: { top: 9, bottom: 10 }
            }
        }
    },
    plugins: [frameTicks]
});
</script>
</body>
</html>
